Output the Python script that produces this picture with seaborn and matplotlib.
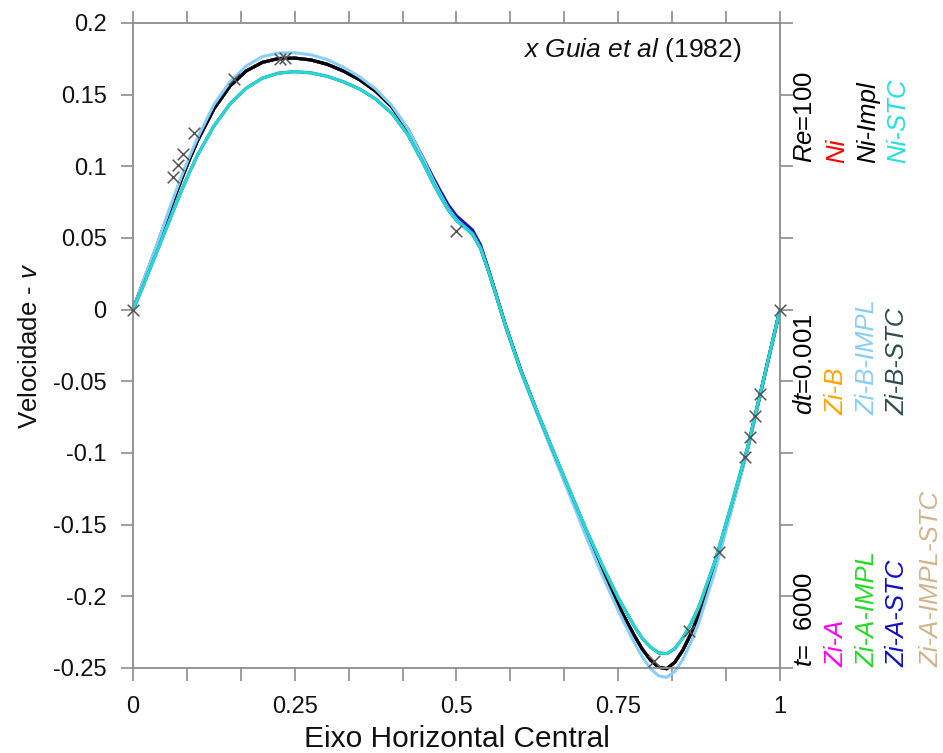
import numpy as np
import pandas as pd
import matplotlib
matplotlib.use("Agg")
import matplotlib.pyplot as plt
from matplotlib.ticker import MultipleLocator, FuncFormatter
import seaborn as sns

# ---------------- data ----------------
x_grid = [0.0, 0.0125, 0.025, 0.0375, 0.05, 0.0625, 0.075, 0.0875, 0.1,
          0.125, 0.15, 0.175, 0.2, 0.225, 0.25, 0.275, 0.3, 0.325, 0.35, 0.375, 0.4, 0.425, 0.45,
          0.4625, 0.475, 0.4875, 0.5, 0.5125, 0.525, 0.5375, 0.55, 0.5625, 0.575,
          0.6, 0.625, 0.65, 0.675, 0.7, 0.725, 0.75,
          0.7625, 0.775, 0.7875, 0.8, 0.8125, 0.825, 0.8375, 0.85, 0.8625, 0.875,
          0.9, 0.925, 0.95, 0.975, 1.0]

v_main = [0.000, 0.015, 0.030, 0.045, 0.061, 0.076, 0.091, 0.105, 0.118,
          0.140, 0.156, 0.1665, 0.1725, 0.1752, 0.1755, 0.1742, 0.1712, 0.1665, 0.1605, 0.1525, 0.1415, 0.1255, 0.1035,
          0.0915, 0.0805, 0.0705, 0.0630, 0.0580, 0.0530, 0.0430, 0.0265, 0.0085, -0.0100,
          -0.0430, -0.0720, -0.1000, -0.1275, -0.1555, -0.1820, -0.2060,
          -0.2170, -0.2275, -0.2370, -0.2445, -0.2495, -0.2505, -0.2460, -0.2375, -0.2260, -0.2125,
          -0.1790, -0.1385, -0.0970, -0.0485, 0.000]

v_zi_a_stc = [0.000, 0.015, 0.030, 0.045, 0.061, 0.076, 0.091, 0.105, 0.118,
              0.140, 0.156, 0.1665, 0.1725, 0.1752, 0.1755, 0.1742, 0.1712, 0.1665, 0.1605, 0.1525, 0.1415, 0.1260, 0.1045,
              0.0935, 0.0830, 0.0730, 0.0655, 0.0605, 0.0555, 0.0450, 0.0275, 0.0090, -0.0100,
              -0.0430, -0.0720, -0.1000, -0.1275, -0.1555, -0.1820, -0.2060,
              -0.2170, -0.2275, -0.2370, -0.2445, -0.2495, -0.2505, -0.2460, -0.2375, -0.2260, -0.2125,
              -0.1790, -0.1385, -0.0970, -0.0485, 0.000]

v_low = [0.000, 0.013, 0.027, 0.041, 0.055, 0.069, 0.083, 0.096, 0.108,
         0.128, 0.1435, 0.1545, 0.1615, 0.1650, 0.1660, 0.1652, 0.1628, 0.1590, 0.1540, 0.1470, 0.1370, 0.1220, 0.1010,
         0.0895, 0.0790, 0.0695, 0.0622, 0.0575, 0.0525, 0.0425, 0.0262, 0.0083, -0.0100,
         -0.0430, -0.0715, -0.0990, -0.1260, -0.1530, -0.1780, -0.2010,
         -0.2110, -0.2210, -0.2295, -0.2355, -0.2395, -0.2400, -0.2365, -0.2290, -0.2190, -0.2070,
         -0.1750, -0.1360, -0.0960, -0.0480, 0.000]

v_high = [0.000, 0.016, 0.031, 0.046, 0.062, 0.078, 0.093, 0.107, 0.120,
          0.143, 0.159, 0.1700, 0.1765, 0.1790, 0.1792, 0.1778, 0.1745, 0.1692, 0.1625, 0.1540, 0.1425, 0.1262, 0.1040,
          0.0918, 0.0807, 0.0706, 0.0630, 0.0580, 0.0530, 0.0430, 0.0265, 0.0085, -0.0105,
          -0.0440, -0.0730, -0.1015, -0.1295, -0.1580, -0.1850, -0.2100,
          -0.2215, -0.2325, -0.2425, -0.2505, -0.2555, -0.2565, -0.2525, -0.2440, -0.2320, -0.2180,
          -0.1820, -0.1400, -0.0980, -0.0490, 0.000]

ghia_x = [0.0, 0.0625, 0.0703, 0.0781, 0.0938, 0.1563, 0.2266, 0.2344, 0.5,
          0.8047, 0.8594, 0.9063, 0.9453, 0.9531, 0.9609, 0.9688, 1.0]
ghia_v = [0.0, 0.09233, 0.10091, 0.10890, 0.12317, 0.16077, 0.17507, 0.17527, 0.05454,
          -0.24533, -0.22445, -0.16914, -0.10313, -0.08864, -0.07391, -0.05906, 0.0]

methods = ["Ni", "Zi-B", "Zi-A", "Zi-A-IMPL", "Zi-A-IMPL-STC", "Zi-A-STC",
           "Ni-Impl", "Zi-B-IMPL", "Zi-B-STC", "Ni-STC"]
series = [v_main, v_main, v_main, v_main, v_main, v_zi_a_stc,
          v_main, v_high, v_low, v_low]
colors = ["#ff0000", "#ffa500", "#ff00ff", "#22dd22", "#d2b48c", "#1010c8",
          "#000000", "#87cefa", "#2f4f4f", "#22d8d8"]

x_ticks = [0, 0.25, 0.5, 0.75, 1]
y_ticks = [0.2, 0.15, 0.1, 0.05, 0, -0.05, -0.1, -0.15, -0.2, -0.25]

# ---------------- style ----------------
sns.set_theme(style="ticks")
plt.rcParams['font.family'] = ['Liberation Sans', 'DejaVu Sans']
plt.rcParams['mathtext.fontset'] = 'custom'
plt.rcParams['mathtext.it'] = 'Liberation Sans:italic'
plt.rcParams['mathtext.rm'] = 'Liberation Sans'
plt.rcParams['axes.unicode_minus'] = False

fig = plt.figure(figsize=(9.43, 7.53), dpi=100)
ax = fig.add_axes([0.1410, 0.1129, 0.6861, 0.8566])

df = pd.concat([pd.DataFrame({"x": x_grid, "v": s, "method": m})
                for m, s in zip(methods, series)], ignore_index=True)

sns.lineplot(data=df, x="x", y="v", hue="method", hue_order=methods,
             palette=dict(zip(methods, colors)), linewidth=2.2,
             estimator=None, sort=False, legend=False, ax=ax)
for ln in ax.lines:
    ln.set_clip_on(False)
    ln.set_solid_joinstyle("round")
sns.scatterplot(x=ghia_x, y=ghia_v, marker="x", color="#555555", s=70,
                linewidth=1.1, ax=ax, zorder=5)
for coll in ax.collections:
    coll.set_clip_on(False)

ax.set_xlim(0, 1)
ax.set_ylim(-0.25, 0.2)
ax.set_xticks(x_ticks)
ax.set_yticks(y_ticks)
ax.xaxis.set_minor_locator(MultipleLocator(1 / 12))
ax.xaxis.set_major_formatter(FuncFormatter(lambda v, p: "%g" % v))
ax.yaxis.set_major_formatter(FuncFormatter(lambda v, p: "%g" % round(v, 3)))

gray = "#8c8c8c"
for sp in ax.spines.values():
    sp.set_visible(True)
    sp.set_color(gray)
    sp.set_linewidth(1.3)
ax.tick_params(which="both", direction="out", length=9, width=1.2, color=gray,
               top=True, right=True, labelsize=17, labelcolor="#111111")
ax.tick_params(axis="y", pad=10)
ax.tick_params(axis="x", pad=11)

ax.set_xlabel("Eixo Horizontal Central", fontsize=21.5, color="#111111", labelpad=5)
ax.set_ylabel(r"Velocidade - $\mathit{v}$", fontsize=18.5, color="#111111", labelpad=8)

ax.text(0.941, 0.958, r"$\mathit{x\ Guia\ et\ al}$ (1982)", transform=ax.transAxes,
        ha="right", va="center", fontsize=19, color="#111111")

# right-side annotation columns
col_x = [1.0386, 1.088, 1.136, 1.182, 1.235]
row_y = [0.783, 0.392, 0.002]
groups = [
    [(r"$\mathit{Re}$=100", "#000000"), ("Ni", "#ff0000"), ("Ni-Impl", "#000000"), ("Ni-STC", "#22e0e0")],
    [(r"$\mathit{dt}$=0.001", "#000000"), ("Zi-B", "#ffa500"), ("Zi-B-IMPL", "#87cefa"), ("Zi-B-STC", "#2f4f4f")],
    [(r"$\mathit{t}$=  6000", "#000000"), ("Zi-A", "#ff00ff"), ("Zi-A-IMPL", "#22dd22"), ("Zi-A-STC", "#1010c8"),
     ("Zi-A-IMPL-STC", "#d2b48c")],
]
for gi, grp in enumerate(groups):
    for ci, (txt, col) in enumerate(grp):
        style = "normal" if ci == 0 else "italic"
        ax.text(col_x[ci], row_y[gi], txt, transform=ax.transAxes, rotation=90,
                ha="center", va="bottom", fontsize=18.5, color=col, style=style,
                clip_on=False)

fig.savefig("out.png", dpi=100)
